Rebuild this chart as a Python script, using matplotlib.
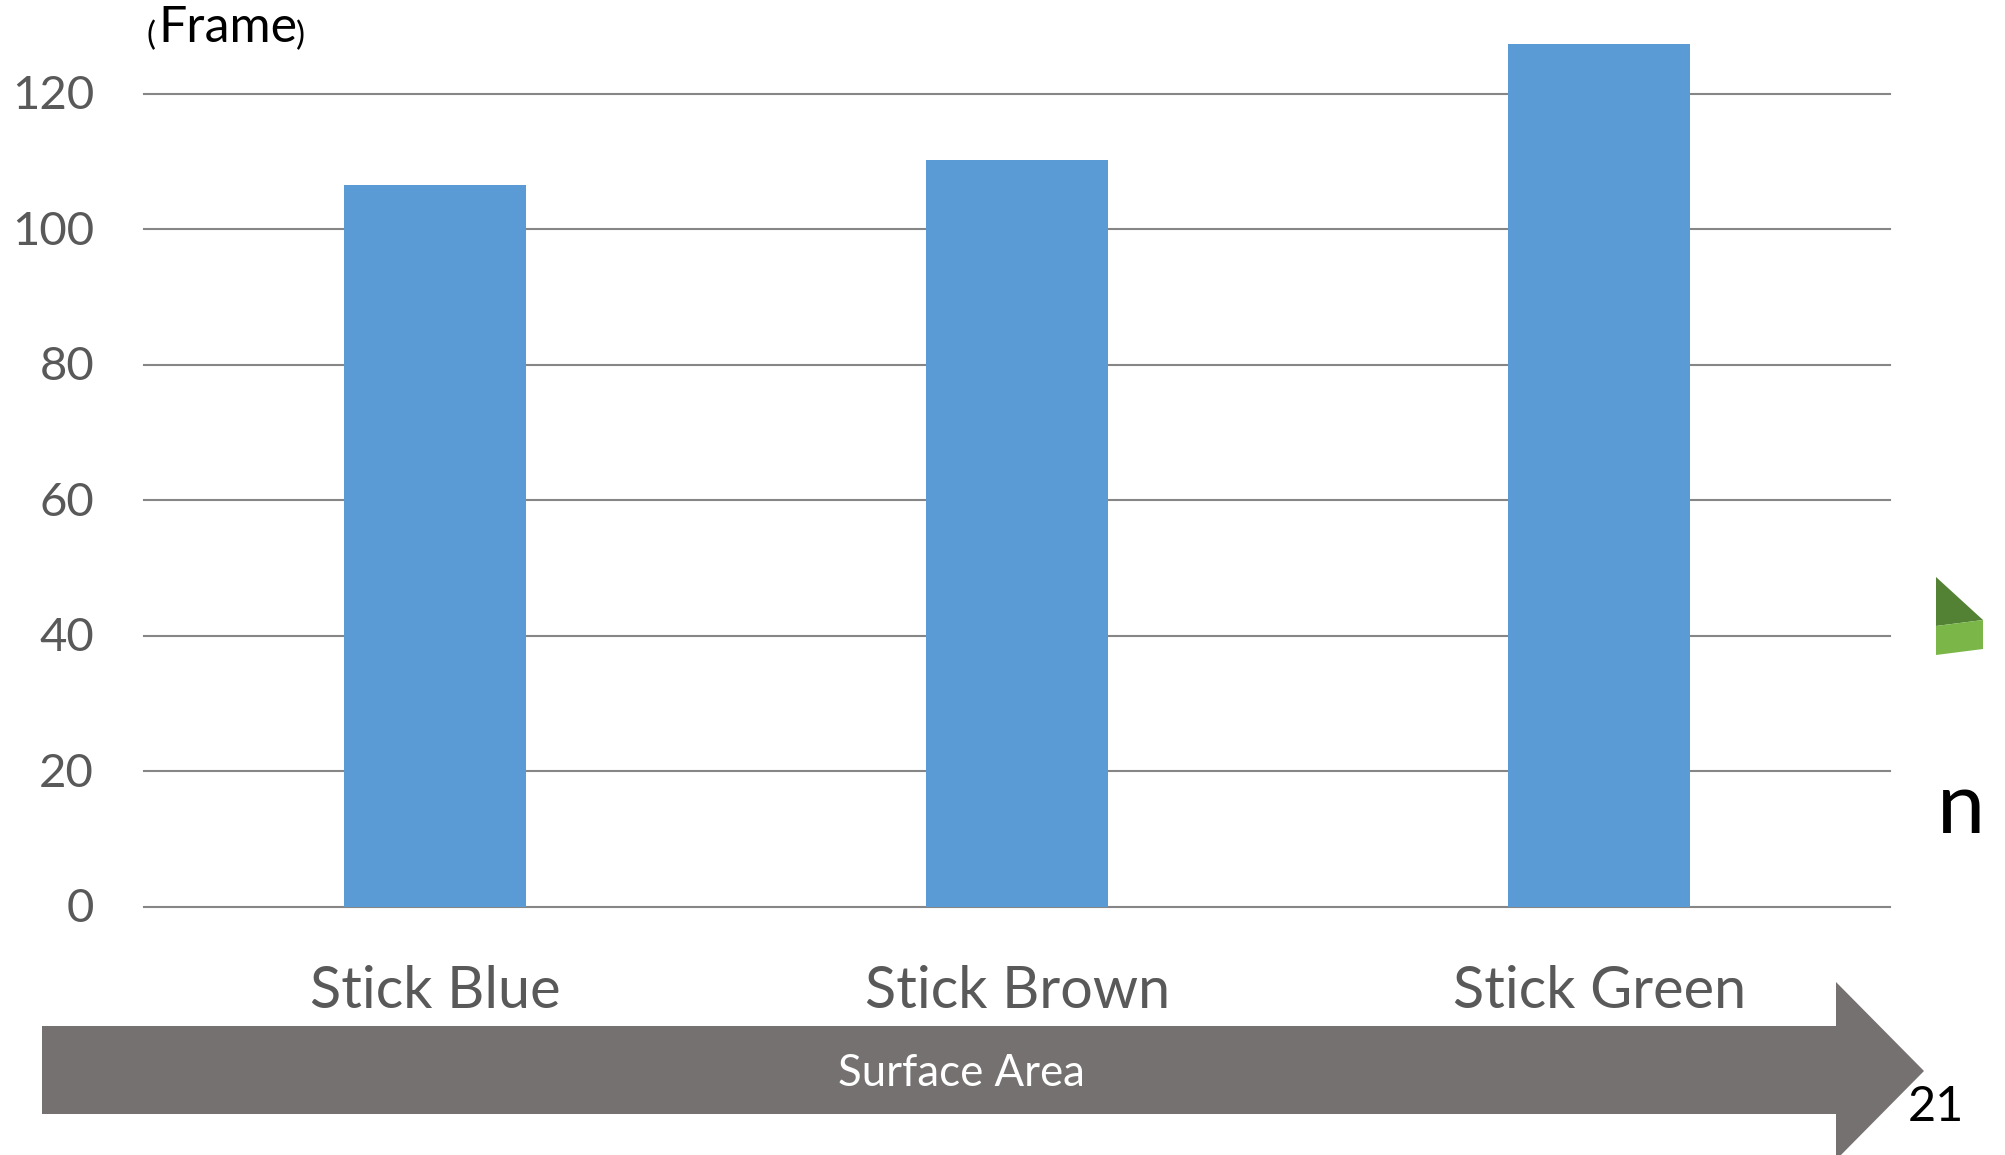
import matplotlib
matplotlib.use('Agg')
import matplotlib.pyplot as plt
from matplotlib.patches import Polygon
from matplotlib.transforms import ScaledTranslation

plt.rcParams['font.family'] = ['Lato', 'DejaVu Sans']

sticks = ['Stick Blue', 'Stick Brown', 'Stick Green']
frames = [106.5, 110.2, 127.4]
y_ticks = [0, 20, 40, 60, 80, 100, 120]

W, H = 2006, 1155
fig = plt.figure(figsize=(W / 100, H / 100), dpi=100, facecolor='white')

# plot area, 130 units tall so the tallest bar fits
ax = fig.add_axes([144 / W, 1 - 906.5 / H, 1746.5 / W, 880.5 / H])
ax.bar(range(len(sticks)), frames, width=0.3125, color='#5B9BD5', zorder=3)
ax.set_xlim(-0.5, 2.5)
ax.set_ylim(0, 130)
ax.set_yticks(y_ticks)
ax.set_xticks(range(len(sticks)))
ax.set_xticklabels(sticks, fontsize=41.5, color='#595959')
ax.tick_params(axis='x', length=0, pad=42)
ax.tick_params(axis='y', length=0, pad=36, labelsize=34, labelcolor='#595959')
# nudge the value labels up a little
nudge = ScaledTranslation(0, 1.1 / 72, fig.dpi_scale_trans)
for label in ax.get_yticklabels():
    label.set_verticalalignment('center_baseline')
    label.set_transform(label.get_transform() + nudge)
ax.grid(axis='y', color='#868686', linewidth=1.5, zorder=1)
ax.set_axisbelow(True)
for line in ax.get_ygridlines():
    line.set_clip_on(False)
for side in ['top', 'right', 'left', 'bottom']:
    ax.spines[side].set_visible(False)

# slide furniture drawn in pixel coordinates on top of the chart
over = fig.add_axes([0, 0, 1, 1], facecolor='none')
over.set_xlim(0, W)
over.set_ylim(H, 0)
over.axis('off')

arrow = [(42, 1026), (1836, 1026), (1836, 982), (1924, 1071), (1836, 1160), (1836, 1114), (42, 1114)]
over.add_patch(Polygon(arrow, closed=True, facecolor='#767171', edgecolor='none'))
over.text(961, 1074, 'Surface Area', color='white', fontsize=31.5, ha='center', va='center')
over.text(1936, 1107, '21', color='black', fontsize=35, ha='center', va='center')

over.add_patch(Polygon([(1936, 577), (1983, 620), (1936, 626)], closed=True, facecolor='#548235', edgecolor='none'))
over.add_patch(Polygon([(1936, 626), (1983, 620), (1983, 649), (1936, 655)], closed=True, facecolor='#7AB648', edgecolor='none'))
over.text(1937, 833, 'n', color='black', fontsize=62, ha='left', va='baseline')

# axis unit with small brackets
over.text(147, 45, '(', color='black', fontsize=24, ha='left', va='baseline')
over.text(158, 42, 'Frame', color='black', fontsize=36, ha='left', va='baseline')
over.text(296, 45, ')', color='black', fontsize=24, ha='left', va='baseline')

fig.savefig('out.png', dpi=100)
